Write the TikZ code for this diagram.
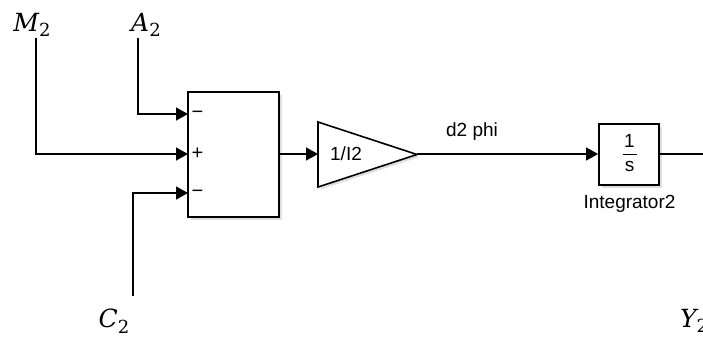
\documentclass[tikz,border=0pt]{standalone}
\usepackage{fontspec}
\newfontfamily\blkfont{Liberation Sans}
\newfontfamily\lblfont{DejaVu Serif}
\usetikzlibrary{arrows.meta,shadows}
\newcommand\mylbl[2]{{\lblfont\itshape #1}\raisebox{-0.22em}{\lblfont\fontsize{18}{20}\selectfont #2}}
\tikzset{
  sig/.style={line width=1.4pt, draw=black},
  sigarrow/.style={sig, -{Triangle[length=12pt,width=13pt]}},
  blockbox/.style={draw=black, line width=1.8pt, fill=white, inner sep=0pt,
    drop shadow={opacity=0.25, shadow xshift=2.5pt, shadow yshift=-2.5pt}},
  mlabel/.style={font=\fontsize{25}{28}\selectfont, inner sep=0pt},
  btext/.style={font=\blkfont\fontsize{19}{22}\selectfont, inner sep=0pt},
  signtext/.style={font=\blkfont\fontsize{20}{22}\selectfont, inner sep=0pt},
}
\begin{document}
\begin{tikzpicture}[x=1pt,y=-1pt]
\useasboundingbox (0,0) rectangle (703,338);
% labels
\node[mlabel] (M) at (32,25) {\mylbl{M}{2}};
\node[mlabel] (A) at (146,25) {\mylbl{A}{2}};
\node[mlabel] (C) at (114,321) {\mylbl{C}{2}};
\node[mlabel,anchor=west] (Y) at (680,321) {\mylbl{Y}{2}};
% sum block
\node[blockbox, minimum width=91pt, minimum height=125pt] (sum) at (233.5,154.5) {};
\node[signtext] (s1) at (197.5,114.5) {−};
\node[signtext] (s2) at (197.5,154) {+};
\node[signtext] (s3) at (197.5,193.5) {−};
\coordinate (in1) at (188,114);
\coordinate (in2) at (188,154);
\coordinate (in3) at (188,193);
% gain block
\draw[line width=1.6pt, fill=white, drop shadow={opacity=0.25, shadow xshift=2.5pt, shadow yshift=-2.5pt}]
  (318,122) -- (417,154.5) -- (318,187) -- cycle;
\coordinate (gin) at (318,154);
\coordinate (gout) at (417,154);
\node[btext] (gtxt) at (346,154) {1/I2};
% integrator
\node[blockbox, minimum width=60pt, minimum height=61pt] (int) at (629,154.5) {};
\node[btext] (one) at (629.5,141) {1};
\draw[line width=1pt] (622.5,154.5) -- (636.5,154.5);
\node[btext] (s) at (629.5,166) {s};
\node[btext] (intlbl) at (629.5,203.5) {Integrator2};
\node[btext] (d2) at (472,132) {d2 phi};
\coordinate (outend) at (703,154);
% connectors
\draw[sigarrow] (36,38) |- (in2);
\draw[sigarrow] (138,38) |- (in1);
\draw[sigarrow] (133,296) |- (in3);
\draw[sigarrow] (sum.east |- gin) -- (gin);
\draw[sigarrow] (gout) -- (int.west |- gout);
\draw[sig] (int.east |- outend) -- (outend);
\end{tikzpicture}
\end{document}
